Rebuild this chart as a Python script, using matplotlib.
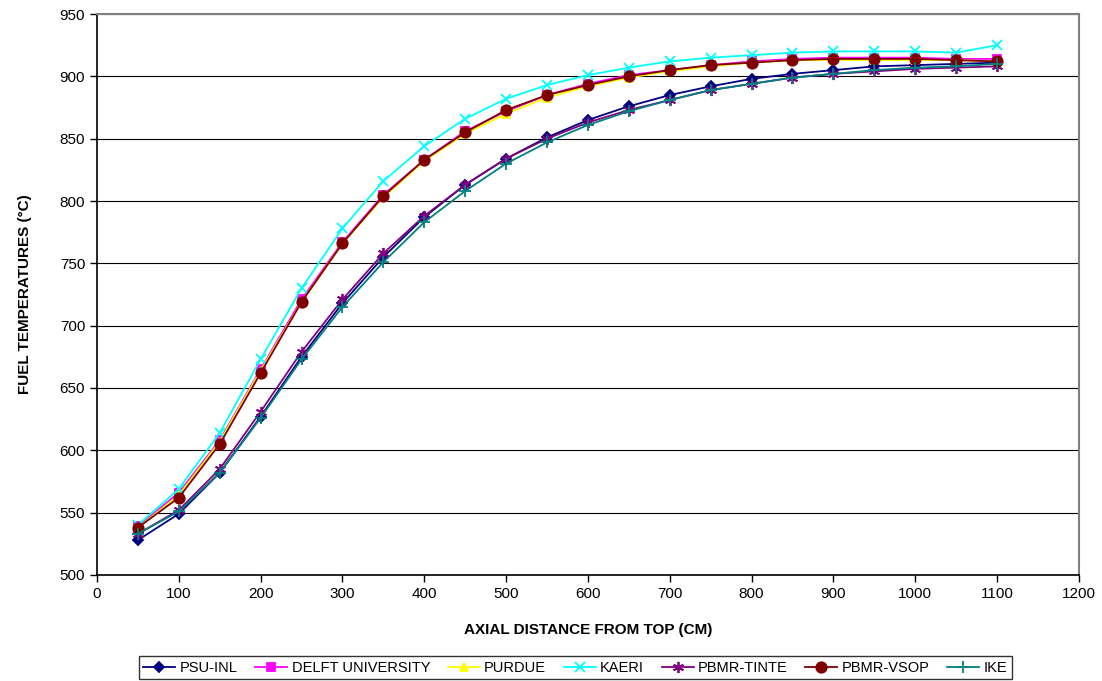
import matplotlib
matplotlib.use("Agg")
import matplotlib.pyplot as plt

plt.rcParams["font.family"] = ["Liberation Sans", "DejaVu Sans"]

# Datos
distancia = [50, 100, 150, 200, 250, 300, 350, 400, 450, 500, 550,
             600, 650, 700, 750, 800, 850, 900, 950, 1000, 1050, 1100]

psu_inl = [528, 549, 582, 627, 675, 718, 755, 787, 813, 834, 851,
           865, 876, 885, 892, 898, 902, 905, 908, 909, 910, 911]
delft = [539, 566, 608, 665, 721, 767, 805, 833, 856, 872, 885,
         894, 901, 905, 909, 912, 914, 915, 915, 915, 914, 914]
purdue = [538, 564, 607, 664, 719, 766, 803, 832, 854, 870, 883,
          892, 899, 904, 908, 911, 913, 913, 913, 913, 913, 912]
kaeri = [540, 569, 614, 673, 730, 778, 816, 844, 866, 882, 893,
         901, 907, 912, 915, 917, 919, 920, 920, 920, 919, 925]
tinte = [533, 552, 585, 631, 679, 721, 758, 788, 813, 834, 850,
         863, 873, 881, 889, 894, 899, 902, 904, 906, 907, 908]
vsop = [538, 562, 605, 662, 719, 766, 804, 833, 855, 873, 885,
        893, 900, 905, 909, 911, 913, 914, 914, 914, 913, 912]
ike = [533, 551, 582, 626, 673, 715, 751, 783, 808, 830, 847,
       861, 872, 881, 889, 894, 899, 902, 905, 907, 908, 910]

series = [
    ("PSU-INL", psu_inl, "#000080", "D", 5),
    ("DELFT UNIVERSITY", delft, "#FF00FF", "s", 6),
    ("PURDUE", purdue, "#FFFF00", "^", 6),
    ("KAERI", kaeri, "#00FFFF", "x", 7),
    ("PBMR-TINTE", tinte, "#800080", (6, 2, 0), 8),
    ("PBMR-VSOP", vsop, "#800000", "o", 7.5),
    ("IKE", ike, "#008080", "+", 8),
]

fig = plt.figure(figsize=(11.02, 6.81), dpi=100)
ax = fig.add_axes([0.088, 0.1557, 0.891, 0.8237])

for nombre, vals, col, mk, ms in series:
    ax.plot(distancia, vals, color=col, marker=mk, markersize=ms,
            markeredgecolor=col, markerfacecolor=col, linewidth=1.3,
            markeredgewidth=1.3, label=nombre)

ax.set_xlim(0, 1200)
ax.set_ylim(500, 950)
ax.set_xticks(range(0, 1201, 100))
ax.set_yticks(range(500, 951, 50))
ax.tick_params(labelsize=11, direction="out", length=5, width=1, colors="black")
ax.yaxis.grid(True, color="black", linewidth=0.8)
ax.set_axisbelow(True)
for lado in ("top", "right"):
    ax.spines[lado].set_color("#808080")
    ax.spines[lado].set_linewidth(1.5)
for lado in ("left", "bottom"):
    ax.spines[lado].set_color("black")
    ax.spines[lado].set_linewidth(1.2)

ax.set_xlabel("AXIAL DISTANCE FROM TOP (CM)", fontsize=11, fontweight="bold", labelpad=16)
ax.set_ylabel("FUEL TEMPERATURES (°C)", fontsize=11, fontweight="bold", labelpad=20)

leg = fig.legend(loc="lower center", bbox_to_anchor=(0.522, -0.008), ncol=7, fontsize=10.5,
                 frameon=True, fancybox=False, edgecolor="black", handlelength=2.2,
                 handletextpad=0.3, columnspacing=1.2, borderpad=0.3)
leg.get_frame().set_linewidth(1.0)

fig.savefig("out.png", dpi=100, facecolor="white")
